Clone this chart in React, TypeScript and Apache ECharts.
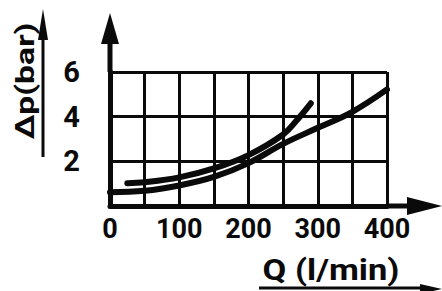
import React, { useEffect, useRef } from "react";
import * as echarts from "echarts";

// Axis ticks / labels
const flowTicks = [0, 100, 200, 300, 400];
const pressureTicks = [2, 4, 6];
const xAxisTitle = "Q (l/min)";
const yAxisTitle = "Δp(bar)";

// Curve A (ends at ~290 l/min)
const curveAFlow = [25, 50, 100, 150, 200, 250, 270, 290];
const curveAPressure = [1.02, 1.06, 1.28, 1.68, 2.28, 3.2, 3.85, 4.6];

// Curve B (0 .. 400 l/min)
const curveBFlow = [0, 50, 100, 150, 200, 250, 300, 350, 400];
const curveBPressure = [0.62, 0.68, 0.92, 1.3, 1.92, 2.78, 3.5, 4.22, 5.22];

const FONT = "Roboto, 'Liberation Sans', sans-serif";
const INK = "#0a0a0a";

export default function App() {
  const ref = useRef<HTMLDivElement>(null);

  useEffect(() => {
    if (!ref.current) return;
    const chart = echarts.init(ref.current, undefined, { renderer: "svg" });

    const zip = (xs: number[], ys: number[]) => xs.map((x, i) => [x, ys[i]]);

    chart.setOption({
      animation: false,
      backgroundColor: "#ffffff",
      grid: { left: 110, right: 55, top: 72, bottom: 85, containLabel: false },
      xAxis: {
        type: "value",
        min: 0,
        max: 400,
        interval: 50,
        axisLine: { show: true, lineStyle: { color: INK, width: 5 } },
        axisTick: { show: false },
        splitLine: { show: true, lineStyle: { color: INK, width: 3 } },
        axisLabel: {
          color: INK,
          fontFamily: FONT,
          fontWeight: "bold",
          fontSize: 27,
          margin: 9,
          formatter: (v: number) => (flowTicks.includes(v) ? String(v) : ""),
        },
      },
      yAxis: {
        type: "value",
        min: 0,
        max: 6,
        interval: 2,
        axisLine: { show: true, lineStyle: { color: INK, width: 5 } },
        axisTick: { show: false },
        splitLine: { show: true, lineStyle: { color: INK, width: 3 } },
        axisLabel: {
          color: INK,
          fontFamily: FONT,
          fontWeight: "bold",
          fontSize: 29,
          margin: 30,
          formatter: (v: number) => (pressureTicks.includes(v) ? String(v) : ""),
        },
      },
      series: [
        {
          type: "line",
          data: zip(curveAFlow, curveAPressure),
          smooth: 0.4,
          showSymbol: false,
          lineStyle: { color: INK, width: 6, cap: "round" },
        },
        {
          type: "line",
          data: zip(curveBFlow, curveBPressure),
          smooth: 0.4,
          showSymbol: false,
          lineStyle: { color: INK, width: 6, cap: "round" },
        },
      ],
    });

    const origin = chart.convertToPixel({ gridIndex: 0 }, [0, 0]) as number[];
    const corner = chart.convertToPixel({ gridIndex: 0 }, [400, 6]) as number[];
    const ox = origin[0];
    const oy = origin[1];
    const right = corner[0];
    const top = corner[1];

    chart.setOption({
      graphic: [
        // y axis extension + arrow
        { type: "line", shape: { x1: ox, y1: top, x2: ox, y2: 40 }, style: { stroke: INK, lineWidth: 5 } },
        { type: "polygon", shape: { points: [[ox, 13], [ox - 9, 44], [ox + 9, 44]] }, style: { fill: INK } },
        // x axis extension + arrow
        { type: "line", shape: { x1: right, y1: oy, x2: 415, y2: oy }, style: { stroke: INK, lineWidth: 5 } },
        { type: "polygon", shape: { points: [[442, oy], [407, oy - 9], [407, oy + 9]] }, style: { fill: INK } },
        // y axis title
        {
          type: "text",
          x: 25,
          y: 81,
          rotation: Math.PI / 2,
          scaleX: 1.35,
          style: {
            text: yAxisTitle,
            fill: INK,
            font: `bold 25px ${FONT}`,
            align: "center",
            verticalAlign: "middle",
          },
        },
        { type: "line", shape: { x1: 43, y1: 157, x2: 43, y2: 36 }, style: { stroke: INK, lineWidth: 3 } },
        { type: "polygon", shape: { points: [[43, 9], [38, 40], [48, 40]] }, style: { fill: INK } },
        // x axis title
        {
          type: "text",
          x: 331,
          y: 270,
          scaleX: 1.15,
          style: {
            text: xAxisTitle,
            fill: INK,
            font: `bold 30px ${FONT}`,
            align: "center",
            verticalAlign: "middle",
          },
        },
        { type: "line", shape: { x1: 259, y1: 288, x2: 425, y2: 288 }, style: { stroke: INK, lineWidth: 3 } },
        { type: "polygon", shape: { points: [[442, 289], [420, 284], [420, 294]] }, style: { fill: INK } },
      ],
    });

    return () => chart.dispose();
  }, []);

  return (
    <div
      ref={ref}
      style={{ position: "fixed", left: 0, top: 0, width: 442, height: 291, background: "#fff" }}
    />
  );
}
